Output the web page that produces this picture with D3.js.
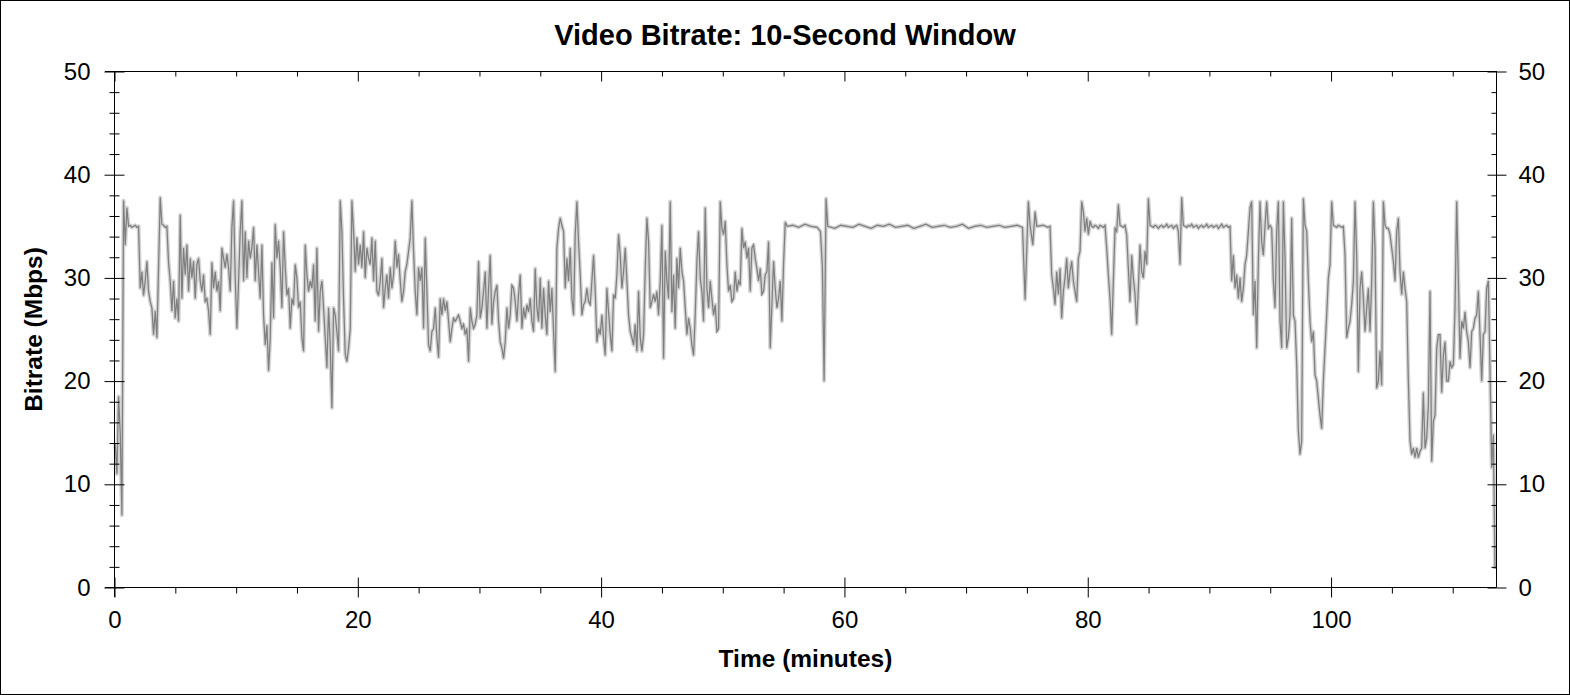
<!DOCTYPE html>
<html>
<head>
<meta charset="utf-8">
<script src="https://cdn.jsdelivr.net/npm/d3@7"></script>
<style>
  html, body { margin: 0; padding: 0; background: #fff; }
  svg { display: block; font-family: "Liberation Sans", Arial, sans-serif; }
  .axis .domain { display: none; }
  .axis line { stroke: #000; }
  .axis text { font-size: 24px; fill: #000; font-family: "Liberation Sans", Arial, sans-serif; }
</style>
</head>
<body>
<svg id="chart" width="1570" height="695"></svg>
<script>
/* global d3 */

// ---- data (Mbps) ----
// evenly spaced samples: t = start + i * sampleStep (minutes)
const sampleStep = 0.137;

const traceAStart = 0.06;
const traceA = [
  14.0, 11.0, 18.5, 15.0, 7.0, 37.5, 33.2, 36.8, 35.0, 35.1, 34.9, 35.0, 35.1, 34.9, 35.0, 29.0, 30.6, 28.3, 29.7, 31.6,
  28.7, 27.7, 27.1, 24.5, 26.8, 24.2, 31.0, 37.8, 35.2, 35.1, 34.9, 35.0, 31.5, 29.7, 26.8, 29.7, 26.1, 28.0, 25.8, 36.1,
  28.0, 32.9, 30.3, 33.2, 28.7, 31.9, 30.0, 31.6, 28.0, 31.3, 31.9, 29.7, 28.7, 30.3, 27.7, 28.0, 26.8, 24.5, 31.5, 29.0,
  30.6, 28.7, 29.7, 26.8, 32.9, 31.9, 31.0, 32.3, 31.0, 28.7, 34.9, 37.5, 30.0, 25.1, 29.7, 34.5, 37.5, 29.7, 34.5, 30.0,
  33.6, 31.9, 32.9, 34.9, 29.7, 33.2, 30.6, 28.0, 33.2, 26.4, 23.5, 25.4, 21.0, 24.2, 31.5, 26.1, 35.2, 31.9, 33.6, 31.0,
  27.1, 34.5, 31.0, 28.3, 29.0, 25.1, 28.0, 27.4, 31.3, 30.0, 27.1, 27.7, 24.2, 22.9, 33.2, 30.3, 28.7, 29.7, 29.0, 31.3,
  25.8, 32.9, 24.8, 28.7, 29.7, 27.1, 24.2, 21.3, 27.1, 23.5, 17.4, 27.1, 26.4, 24.8, 22.9, 37.5, 34.5, 28.0, 22.6, 21.9,
  23.2, 25.1, 37.5, 34.5, 30.6, 33.9, 31.3, 33.2, 31.0, 34.5, 30.0, 32.9, 31.9, 31.3, 33.9, 29.7, 33.6, 28.7, 28.3, 29.7,
  31.9, 27.1, 29.0, 30.3, 28.0, 31.0, 29.0, 30.3, 33.6, 31.0, 32.3, 29.7, 27.7, 28.7, 30.6, 31.3, 32.6, 33.9, 37.5, 32.6,
  28.7, 26.4, 31.0, 29.7, 31.0, 25.1, 33.9, 28.7, 23.5, 22.9, 24.8, 25.1, 27.1, 24.2, 22.3, 28.0, 26.4, 28.0, 26.8, 27.7,
  25.8,
  23.8, 25.1, 26.1, 25.8, 26.1, 26.4, 25.8, 25.1, 25.5, 24.5, 25.1, 21.9, 27.1, 25.8, 25.1, 25.5, 26.4, 31.6, 26.1, 27.1,
  28.7, 30.6, 25.1, 29.0, 32.2, 25.5, 27.7, 28.7, 29.3, 25.8, 23.8, 23.2, 22.2, 23.8, 27.1, 25.1, 26.4, 29.3, 29.0, 27.7,
  25.8, 28.4, 30.3, 25.1, 27.1, 26.1, 27.4, 26.7, 28.0, 25.8, 24.8, 30.9, 27.1, 25.8, 30.0, 25.1, 29.0, 26.4, 24.5, 29.7,
  26.7, 29.0, 24.8, 20.9, 32.9, 34.8, 35.8, 35.1, 34.5, 29.0, 31.9, 29.7, 32.9, 28.0, 26.4, 34.2, 37.4, 33.5, 30.3, 26.4,
  27.4, 27.7, 29.0, 27.7, 27.4, 29.7, 32.2, 28.7, 23.8, 25.1, 24.5, 26.4, 24.2, 22.5, 29.0, 26.7, 24.5, 22.9, 28.4, 28.0,
  30.3, 34.2, 32.2, 29.0, 30.6, 32.9, 29.7, 26.4, 24.8, 24.2, 23.5, 25.5, 22.9, 28.7, 24.2, 22.9, 24.5, 30.9, 35.8, 33.5,
  27.1, 27.7, 28.4, 27.7, 28.7, 26.4, 29.7, 35.1, 22.2, 32.6, 29.7, 28.0, 37.4, 26.7, 30.3, 25.1, 31.9, 29.0, 32.9, 30.6,
  29.7, 27.1, 24.5, 26.1, 25.1, 23.5, 22.5, 26.4, 31.6, 34.5, 30.0, 28.7, 25.8, 36.8, 29.0, 27.1, 29.7, 28.0, 26.4, 27.4,
  24.8, 25.1, 37.4, 34.8, 34.2, 35.5, 31.3, 28.7, 29.3, 27.7, 28.0, 30.6, 28.7, 29.7, 29.3, 34.8, 32.9, 33.5, 31.9, 32.9,
  28.7, 32.9, 33.2, 31.9, 30.9, 29.7, 30.9, 28.4, 28.7, 30.3, 30.6, 33.5, 23.2, 27.4, 31.6, 29.0, 27.1, 28.0, 29.7, 25.8,
  31.3, 35.4
];

// long near-constant stretch, [minutes, Mbps]
const plateau = [
  [55.3, 35.0], [55.75, 35.1], [56.25, 34.9], [56.75, 35.2], [57.25, 35.0], [57.75, 34.9],
  [58.03, 34.5], [58.19, 31.0], [58.33, 20.0], [58.49, 37.7], [58.63, 35.0],
  [59.2, 34.8], [59.7, 35.1], [60.2, 35.0], [60.7, 34.9], [61.2, 35.2], [61.7, 35.0],
  [62.2, 34.8], [62.7, 35.1], [63.2, 35.0], [63.7, 35.2], [64.2, 34.9], [64.7, 35.0],
  [65.2, 35.1], [65.7, 34.8], [66.2, 35.0], [66.7, 35.2], [67.2, 34.9], [67.7, 35.0],
  [68.2, 35.1], [68.7, 34.9], [69.2, 35.0], [69.7, 35.2], [70.2, 34.8], [70.7, 35.0],
  [71.2, 35.1], [71.7, 34.9], [72.2, 35.0], [72.7, 35.1], [73.2, 34.9], [73.7, 35.0],
  [74.2, 35.1], [74.64, 34.9], [74.85, 27.9], [75.12, 37.4], [75.26, 35.1], [75.48, 33.2],
  [75.67, 36.4], [75.81, 35.0], [76.33, 35.1], [76.73, 34.9]
];

const traceBStart = 76.90;
const traceB = [
  35.0, 30.3, 29.0, 27.4, 30.6, 28.4, 30.9, 26.1, 28.7, 30.0, 31.9, 29.0, 30.6, 31.6, 29.7, 28.7, 27.7, 31.9, 32.6, 37.4,
  36.4, 34.5, 35.8, 34.2, 35.5, 35.0, 34.9, 35.1, 35.0, 34.8, 35.1, 35.0, 34.9, 35.1, 32.9, 30.3, 28.0, 24.5, 29.7, 34.8,
  34.5, 37.1, 35.1, 35.0, 34.9, 35.1, 34.2, 30.9, 27.7, 32.2, 30.0, 28.4, 25.5, 29.0, 33.2, 30.6, 30.0, 32.6, 31.3, 37.7,
  35.1, 35.0, 34.9, 35.1, 35.0, 34.8, 35.0, 35.1, 34.9, 35.0, 35.2, 34.9, 35.0, 35.1, 34.8, 35.0, 35.1, 34.5, 31.3, 37.8,
  35.1, 35.0, 34.9, 35.1, 35.0, 35.2, 34.9, 35.0, 35.1, 34.8, 35.0, 35.1, 34.9, 35.0, 35.2, 34.9, 35.0, 35.1, 34.9, 35.0,
  35.1, 34.8, 35.0, 35.2, 34.9, 35.0, 35.1, 34.9, 35.0,
  29.7, 32.2, 29.0, 30.3, 28.0, 30.0, 27.7, 29.0, 31.3, 32.2, 34.5, 36.8, 37.4, 26.4, 29.7, 23.2, 31.6, 37.4, 33.5, 32.2,
  35.1, 37.4, 34.8, 35.1, 34.8, 29.7, 27.1, 34.5, 37.4, 25.8, 23.2, 37.4, 31.9, 23.2, 24.2, 26.4, 35.8, 26.4, 25.8, 21.6,
  15.2, 12.9, 14.2, 37.7, 35.1, 34.5, 29.7, 25.8, 23.8, 24.8, 20.6, 20.0, 18.3, 16.7, 15.4, 20.0, 23.2, 26.4, 30.0, 31.3,
  37.4, 35.1, 35.0, 34.9, 35.1, 35.0, 34.9, 35.0, 32.2, 24.2, 25.1, 25.8, 27.4, 29.7, 37.4, 32.2, 20.9, 29.0, 30.6, 28.0,
  24.8, 27.1, 29.0, 24.8, 29.7, 37.4, 32.9, 19.3, 20.0, 22.9, 19.6, 37.4, 35.1, 34.8, 34.8, 34.2, 32.9, 31.6, 29.7, 34.5,
  35.8, 30.6, 28.4, 30.6, 29.0, 27.7, 20.0, 14.2, 12.9, 13.5, 12.6, 13.5, 12.6, 13.2, 13.5, 18.9, 13.5, 14.5, 17.7, 28.7,
  12.2, 16.1, 16.7, 23.2, 24.5, 24.5, 18.9, 22.5, 23.8, 20.0, 20.0, 21.9, 21.3, 21.6, 27.1, 37.4, 29.7, 22.2, 25.8, 25.1,
  26.7, 24.8, 23.8, 21.3, 24.8, 25.1, 26.1, 26.4, 28.7, 24.5, 20.0, 24.5, 24.8, 29.0, 29.7, 21.0, 11.6, 14.8, 1.8
];

// axis ticks
const xMajor = [0, 20, 40, 60, 80, 100];
const xMinor = [5, 10, 15, 25, 30, 35, 45, 50, 55, 65, 70, 75, 85, 90, 95, 105, 110];
const yMajor = [0, 10, 20, 30, 40, 50];
const yMinor = [2, 4, 6, 8, 12, 14, 16, 18, 22, 24, 26, 28, 32, 34, 36, 38, 42, 44, 46, 48];
const tMax = 113.6;

// ---- build series ----
const series = []
  .concat(traceA.map((v, i) => [traceAStart + i * sampleStep, v]))
  .concat(plateau)
  .concat(traceB.map((v, i) => [traceBStart + i * sampleStep, v]));

const svg = d3.select("#chart");
const W = 1570, H = 695;
const pLeft = 114.5, pRight = 1496.5, pTop = 71.5, pBottom = 587.5;

const x = d3.scaleLinear().domain([0, tMax]).range([pLeft, pRight]);
const y = d3.scaleLinear().domain([0, 50]).range([pBottom, pTop]);

// outer border
svg.append("rect")
  .attr("x", 0.5).attr("y", 0.5)
  .attr("width", W - 1).attr("height", H - 1)
  .attr("fill", "#fff").attr("stroke", "#000");

// title
svg.append("text")
  .attr("x", 785).attr("y", 44.5)
  .attr("text-anchor", "middle")
  .style("font-size", "29px").style("font-weight", "bold")
  .text("Video Bitrate: 10-Second Window");

// trace: light halo, then the line itself
const line = d3.line().x(d => x(d[0])).y(d => y(d[1]));

svg.append("path")
  .datum(series)
  .attr("d", line)
  .attr("fill", "none")
  .attr("stroke", "#d4d4d4")
  .attr("stroke-width", 4)
  .attr("stroke-linejoin", "round");

svg.append("path")
  .datum(series)
  .attr("d", line)
  .attr("fill", "none")
  .attr("stroke", "#7f7f7f")
  .attr("stroke-width", 1.25);

// ---- axes ----
function addAxis(axis, tx, ty) {
  return svg.append("g")
    .attr("class", "axis")
    .attr("transform", `translate(${tx},${ty})`)
    .call(axis);
}
const none = () => "";

// left: ticks crossing the axis, labels outside
addAxis(d3.axisLeft(y).tickValues(yMajor).tickSize(10).tickSizeOuter(0).tickPadding(14), pLeft, 0);
addAxis(d3.axisRight(y).tickValues(yMajor).tickSize(10).tickSizeOuter(0).tickFormat(none), pLeft, 0);
addAxis(d3.axisLeft(y).tickValues(yMinor).tickSize(5).tickSizeOuter(0).tickFormat(none), pLeft, 0);
addAxis(d3.axisRight(y).tickValues(yMinor).tickSize(5).tickSizeOuter(0).tickFormat(none), pLeft, 0);

// right: minor inward, major crossing, labels outside
addAxis(d3.axisRight(y).tickValues(yMajor).tickSize(10).tickSizeOuter(0).tickPadding(12), pRight, 0);
addAxis(d3.axisLeft(y).tickValues(yMajor).tickSize(9).tickSizeOuter(0).tickFormat(none), pRight, 0);
addAxis(d3.axisLeft(y).tickValues(yMinor).tickSize(5).tickSizeOuter(0).tickFormat(none), pRight, 0);

// bottom: major crossing, minor outside
addAxis(d3.axisBottom(x).tickValues(xMajor).tickSize(10).tickSizeOuter(0).tickPadding(13), 0, pBottom);
addAxis(d3.axisTop(x).tickValues(xMajor).tickSize(10).tickSizeOuter(0).tickFormat(none), 0, pBottom);
addAxis(d3.axisBottom(x).tickValues(xMinor).tickSize(6).tickSizeOuter(0).tickFormat(none), 0, pBottom);

// top: ticks pointing in
addAxis(d3.axisBottom(x).tickValues(xMajor).tickSize(10).tickSizeOuter(0).tickFormat(none), 0, pTop);
addAxis(d3.axisBottom(x).tickValues(xMinor).tickSize(5).tickSizeOuter(0).tickFormat(none), 0, pTop);

// frame lines
const frame = [
  [[pLeft, pTop - 0.5], [pLeft, pBottom + 9.5]],
  [[pLeft - 9.5, pBottom], [pRight, pBottom]],
  [[pLeft - 9.5, pTop], [pRight, pTop]],
  [[pRight, pTop - 0.5], [pRight, pBottom]]
];
svg.append("g").selectAll("line")
  .data(frame)
  .join("line")
  .attr("x1", d => d[0][0]).attr("y1", d => d[0][1])
  .attr("x2", d => d[1][0]).attr("y2", d => d[1][1])
  .attr("stroke", "#000");

// axis titles
svg.append("text")
  .attr("x", (pLeft + pRight) / 2).attr("y", 667)
  .attr("text-anchor", "middle")
  .style("font-size", "24.5px").style("font-weight", "bold")
  .text("Time (minutes)");

svg.append("text")
  .attr("transform", `translate(42,${(pTop + pBottom) / 2}) rotate(-90)`)
  .attr("text-anchor", "middle")
  .style("font-size", "24.5px").style("font-weight", "bold")
  .text("Bitrate (Mbps)");
</script>
</body>
</html>
